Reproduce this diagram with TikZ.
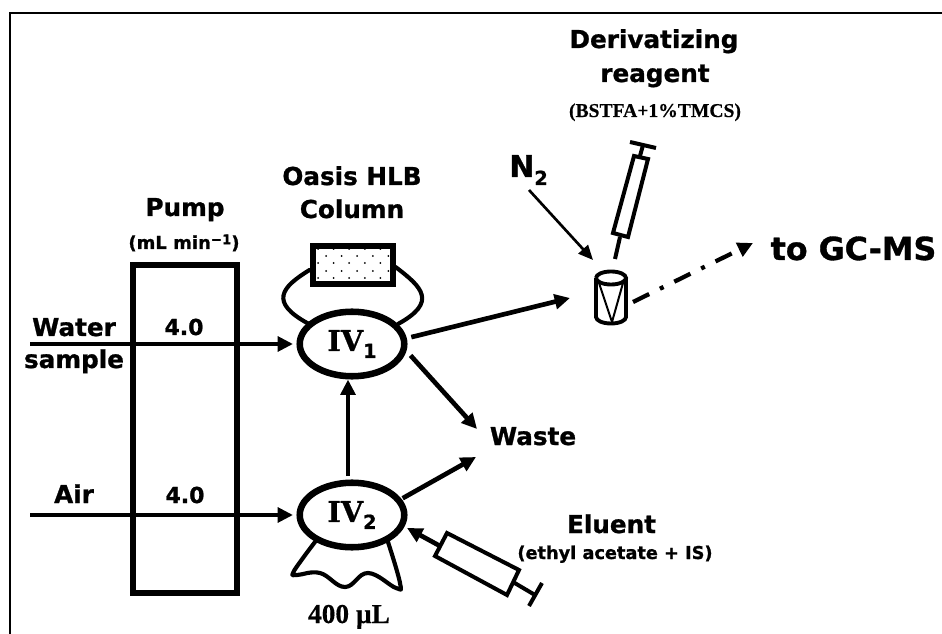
\documentclass[tikz,border=0pt]{standalone}
\usepackage{fontspec}
\setmainfont[BoldFeatures={FakeBold=1.0}]{DejaVu Sans}
\newfontfamily\tnr[BoldFeatures={FakeBold=0.4}]{Liberation Serif}
\newfontfamily\dser[BoldFeatures={FakeBold=0.9}]{DejaVu Serif}
\usetikzlibrary{arrows.meta,calc,shapes.geometric}
\tikzset{
  x=0.75pt,y=-0.75pt,
  lbl/.style={font=\bfseries\fontsize{#1}{#1}\selectfont,inner sep=0pt,anchor=base},
  slbl/.style={font=\tnr\bfseries\fontsize{#1}{#1}\selectfont,inner sep=0pt,anchor=base},
  flow/.style={line width=3.5pt,-{Triangle[length=11.5pt,width=11pt]}},
  thinflow/.style={line width=2pt,-{Triangle[length=11pt,width=9.5pt]}},
  valve/.style={draw,line width=4.9pt,ellipse,minimum width=78.4pt,minimum height=48.4pt,inner sep=0pt},
  tube/.style={line width=3.1pt,line cap=round,line join=round},
  syrbody/.style={line width=3pt,fill=white,line join=miter},
  syrline/.style={line width=3pt},
}
\newcommand{\ivlabel}[1]{\raisebox{1.1pt}{{\dser\bfseries\fontsize{21.5}{21.5}\selectfont IV}\raisebox{-5.2pt}{\bfseries\fontsize{14.5}{14.5}\selectfont #1}}}
\begin{document}
\begin{tikzpicture}
\useasboundingbox (0,0) rectangle (942,634);
\draw[line width=1.5pt] (9.5,634) -- (9.5,13) -- (942,13);
% pump
\node[draw,line width=4.5pt,minimum width=78pt,minimum height=246pt,inner sep=0pt] (pump) at (185,429) {};
\node[lbl=18.5] (pumpt) at (185,216) {Pump};
\node[lbl=13.5] (pumpu) at (184,249) {(mL min\raisebox{3.6pt}{\fontsize{10}{10}\selectfont −1})};
\node[lbl=16.5] (r1) at (184,335) {4.0};
\node[lbl=16.5] (r2) at (185,503) {4.0};
\node[lbl=18.5] (water) at (74,336) {Water};
\node[lbl=18.5] (sample) at (74,368) {sample};
\node[lbl=18.5] (air) at (74,503) {Air};
% valves
\node[valve] (iv1) at (352,344) {\ivlabel{1}};
\node[valve] (iv2) at (352,515) {\ivlabel{2}};
% column
\node[lbl=18.5] (colt1) at (352,185) {Oasis HLB};
\node[lbl=18.5] (colt2) at (352,218) {Column};
\node[draw,line width=4.5pt,fill=white,minimum width=60pt,minimum height=29pt,inner sep=0pt] (col) at (352.5,265) {};
\foreach \yy/\xs in {249/0,256/1,263/0,271/1,278/0}{
  \foreach \i in {0,...,4}{
    \fill ({\ifnum\xs=0 318\else 326\fi+15.6*\i},\yy) circle (0.75pt);
  }
}
\draw[tube] (col.west) ++(0,5) .. controls (282,287) and (268,302) .. (309,324);
\draw[tube] (col.east) ++(0,2) .. controls (422,287) and (438,302) .. (398,324);
% inputs
\coordinate (wIn) at (30,344);
\coordinate (aIn) at (30,515);
\draw[flow,shorten >=2.6pt] (wIn) -- (iv1.west);
\draw[flow,shorten >=2.6pt] (aIn) -- (iv2.west);
% vial
\node[minimum width=25.5pt,minimum height=41pt,inner sep=0pt] (vial) at (611,298) {};
\draw[line width=2.9pt] (596,278) arc[start angle=180,end angle=-180,x radius=15,y radius=6.5];
\draw[line width=2.9pt] (596,278) -- (596,317) arc[start angle=180,end angle=0,x radius=15,y radius=6.5] -- (626,278);
\draw[line width=1.5pt] (599,283) -- (612,322) -- (623,283);
% waste
\node[lbl=18.5] (waste) at (533,445) {Waste};
\coordinate (wA) at (477,429);
\coordinate (wB) at (476,457);
\coordinate (vA) at (570,298);
\draw[flow,shorten <=3.5pt] (iv1.6) -- (vA);
\draw[flow,shorten <=4.5pt] (iv1.7 |- 0,351) -- (wA);
\draw[flow,shorten <=1pt] (iv2.18) -- (wB);
\draw[flow,shorten <=2.5pt] (iv2.north -| 348,0) -- (iv1.south -| 348,0);
% GC-MS
\node[lbl=23.8] (gc) at (853.5,260) {to GC-MS};
\coordinate (gA) at (633,302);
\coordinate (gB) at (753,243);
\draw[line width=3.2pt,dash pattern=on 13.5pt off 9pt on 3pt off 9pt,-{Triangle[length=11.5pt,width=11pt]}] (gA) -- (gB);
% N2
\node[lbl=22.5,anchor=base west] (n2) at (509,177) {N\raisebox{-6pt}{\fontsize{14.5}{14.5}\selectfont 2}};
\coordinate (nA) at (529,190);
\coordinate (nB) at (593,260);
\draw[thinflow] (nA) -- (nB);
% derivatizing labels
\node[lbl=18.5] (d1) at (654,48) {Derivatizing};
\node[lbl=18.5] (d2) at (655,82) {reagent};
\node[slbl=14.7] (d3) at (655,117) {(BSTFA+1\%TMCS)};
% top syringe
\draw[syrline] (615,259) -- (620,237);
\draw[syrbody] (634,156) -- (648,159) -- (628,237) -- (613,233) -- cycle;
\draw[syrline] (640,156) -- (643,145);
\draw[syrline] (630,142) -- (656,148);
% bag
\draw[tube] plot[smooth,tension=0.7] coordinates {(315,542) (303,558) (293,573) (297,575) (320,573) (345,587) (368,573) (396,588) (400,583) (388,542)};
\node[slbl=20.5] (vol) at (349,623) {400 µL};
% eluent
\node[lbl=18.5] (el1) at (611.5,533) {Eluent};
\node[lbl=13.3] (el2) at (615,559) {(ethyl acetate + IS)};
\coordinate (sA) at (407,528);
\coordinate (sB) at (440,546);
\draw[flow] (sB) -- (sA);
\draw[syrbody] (447,533) -- (519,570) -- (507,595) -- (435,556) -- cycle;
\draw[syrline] (513,582) -- (535,595);
\draw[syrline] (542,583) -- (529,606);
\end{tikzpicture}
\end{document}
